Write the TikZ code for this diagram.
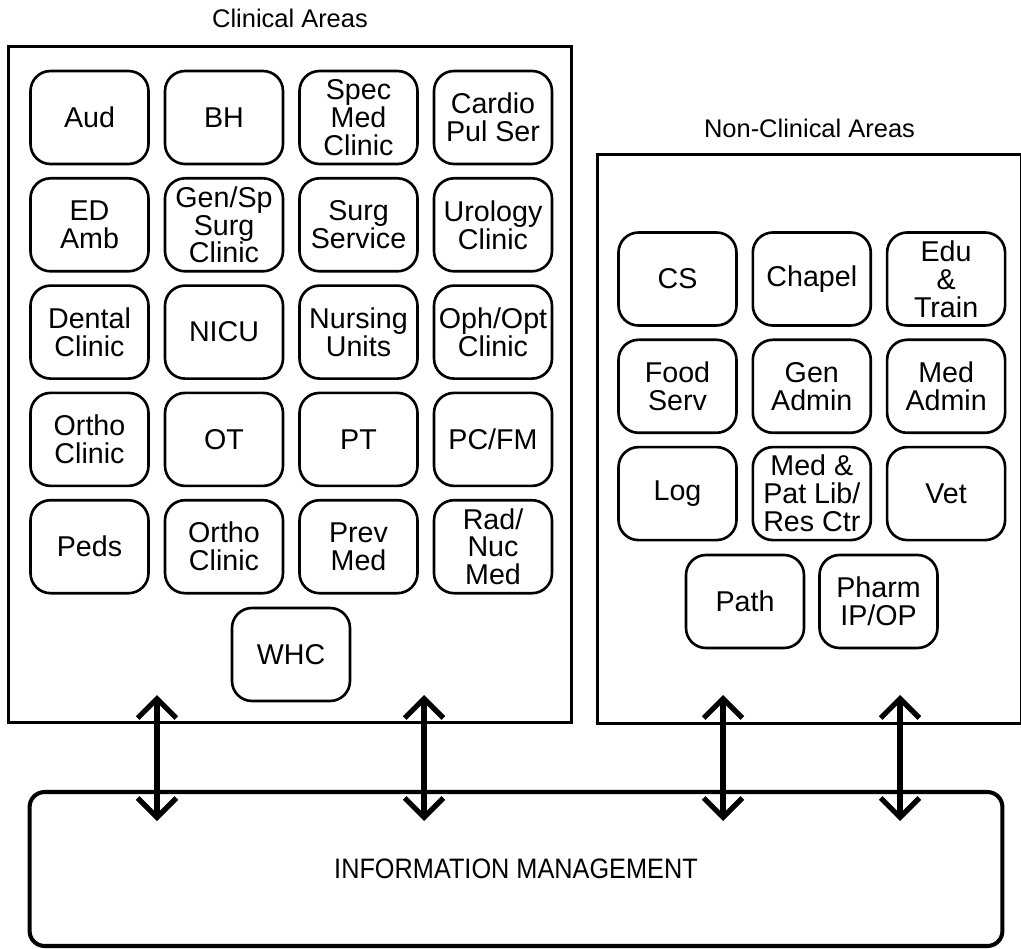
\documentclass[tikz,border=0pt]{standalone}
\usepackage{fontspec}
\setmainfont{Liberation Sans}
\usetikzlibrary{arrows.meta,positioning}
\tikzset{
  unit/.style={draw,line width=1.5pt,rounded corners=0.4cm,minimum width=2.36cm,
    minimum height=1.86cm,inner sep=0pt,align=center,font=\fontsize{16.3}{15.9}\selectfont},
  area/.style={draw,line width=1.7pt,inner sep=0pt},
  areatitle/.style={inner sep=0pt,font=\fontsize{14.5}{14.5}\selectfont},
  link/.style={line width=3pt,{Straight Barb[length=11pt,width=22pt]}-{Straight Barb[length=11pt,width=22pt]}}
}

\begin{document}
\begin{tikzpicture}[x=0.02cm,y=-0.02cm]
        \useasboundingbox (0,0) rectangle (1021,949);
        % area frames
        \node[area,minimum width=11.28cm,minimum height=13.54cm] (clinical) at (290,384.5) {};
        \node[area,minimum width=8.48cm,minimum height=11.38cm] (nonclin) at (809.5,439) {};
        \node[areatitle,above=0.32cm of clinical] (cltitle) {Clinical Areas};
        \node[areatitle,above=0.3cm of nonclin] (nctitle) {Non-Clinical Areas};
        % clinical units
        \foreach \lbl [count=\i from 0] in {Aud,BH,{Spec\\Med\\Clinic},{Cardio\\Pul Ser},
            {ED\\Amb},{Gen/Sp\\Surg\\Clinic},{Surg\\Service},{Urology\\Clinic},
            {Dental\\Clinic},NICU,{Nursing\\Units},{Oph/Opt\\Clinic},
            {Ortho\\Clinic},OT,PT,PC/FM,
            Peds,{Ortho\\Clinic},{Prev\\Med},{Rad/\\Nuc\\Med}}{
          \pgfmathtruncatemacro{\c}{mod(\i,4)}
          \pgfmathtruncatemacro{\r}{div(\i,4)}
          \node[unit] (cl\i) at ({89.5+134.5*\c},{117.5+107.3*\r}) {\lbl};
        }
        \node[unit] (whc) at (291,654.5) {WHC};
        % non-clinical units
        \foreach \lbl [count=\i from 0] in {CS,Chapel,{Edu\\\&\\Train},
            {Food\\Serv},{Gen\\Admin},{Med\\Admin},
            Log,{Med \&\\Pat Lib/\\Res Ctr},Vet}{
          \pgfmathtruncatemacro{\c}{mod(\i,3)}
          \pgfmathtruncatemacro{\r}{div(\i,3)}
          \node[unit] (nc\i) at ({677.5+134.3*\c},{279+107.3*\r}) {\lbl};
        }
        \node[unit] (path) at (745,601.5) {Path};
        \node[unit] (pharm) at (878.5,601.5) {Pharm\\IP/OP};
        % information management
        \node[draw,line width=2.3pt,rounded corners=0.3cm,minimum width=19.46cm,
          minimum height=3.08cm,inner sep=0pt] (im) at (516,869) {};
        \node[inner sep=0pt] (imtext) at (im.center)
          {\scalebox{0.9}[1]{\fontsize{16}{16}\selectfont INFORMATION MANAGEMENT}};
        % links
        \foreach \x [count=\k] in {157,424,723,900}{
          \coordinate (up\k) at (\x,695);
          \coordinate (dn\k) at (\x,821);
          \draw[link] (up\k) -- (dn\k);
        }
      \end{tikzpicture}
\end{document}
